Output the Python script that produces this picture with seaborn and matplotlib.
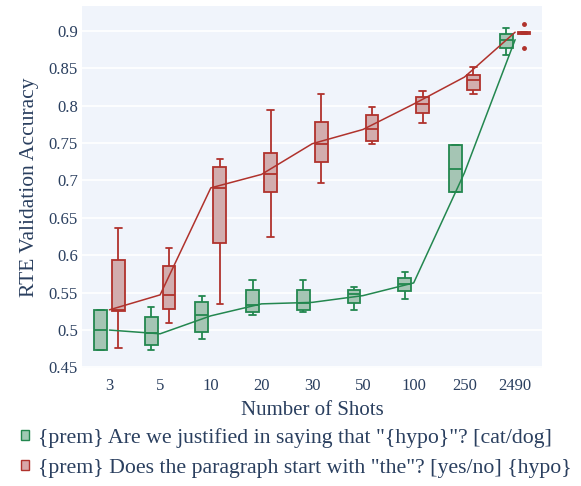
import numpy as np
import pandas as pd
import matplotlib
matplotlib.use("Agg")
import matplotlib.pyplot as plt
from matplotlib.patches import Patch
from matplotlib.ticker import FixedLocator, FuncFormatter
import seaborn as sns

SHOTS = ["3", "5", "10", "20", "30", "50", "100", "250", "2490"]
TEMPLATES = ['{prem} Are we justified in saying that "{hypo}"? [cat/dog]',
             '{prem} Does the paragraph start with "the"? [yes/no] {hypo}']

# five-number summaries per shot (template 1: cat/dog)
G_LOW = [0.473, 0.473, 0.488, 0.520, 0.524, 0.527, 0.542, 0.684, 0.867]
G_Q1 = [0.473, 0.480, 0.498, 0.524, 0.527, 0.536, 0.552, 0.684, 0.877]
G_MED = [0.500, 0.496, 0.520, 0.534, 0.536, 0.548, 0.562, 0.715, 0.888]
G_Q3 = [0.527, 0.517, 0.538, 0.554, 0.554, 0.554, 0.570, 0.747, 0.896]
G_HIGH = [0.527, 0.531, 0.545, 0.567, 0.567, 0.557, 0.578, 0.747, 0.903]
G_LINE = [0.500, 0.495, 0.519, 0.535, 0.537, 0.546, 0.563, 0.710, 0.888]

# template 2: yes/no
R_LOW = [0.476, 0.509, 0.535, 0.624, 0.697, 0.748, 0.776, 0.816, 0.877]
R_Q1 = [0.525, 0.528, 0.616, 0.684, 0.725, 0.753, 0.790, 0.821, 0.8956]
R_MED = [0.527, 0.547, 0.690, 0.708, 0.748, 0.768, 0.802, 0.834, 0.897]
R_Q3 = [0.594, 0.585, 0.718, 0.736, 0.778, 0.787, 0.812, 0.841, 0.8987]
R_HIGH = [0.636, 0.610, 0.729, 0.794, 0.816, 0.798, 0.820, 0.852, 0.909]
R_LINE = [0.527, 0.547, 0.690, 0.708, 0.749, 0.768, 0.802, 0.838, 0.898]

YTICKS = [0.45, 0.5, 0.55, 0.6, 0.65, 0.7, 0.75, 0.8, 0.85, 0.9]

G_EDGE = "#23874f"
G_FILL = "#a0cab4"
R_EDGE = "#b0322c"
R_FILL = "#d8a7a8"
BG = "#f0f4fb"
TXT = "#2a3f5f"

rows = []
for tpl, stats in [(TEMPLATES[0], (G_LOW, G_Q1, G_MED, G_Q3, G_HIGH)),
                   (TEMPLATES[1], (R_LOW, R_Q1, R_MED, R_Q3, R_HIGH))]:
    for i, s in enumerate(SHOTS):
        for arr in stats:
            rows.append({"shots": s, "acc": arr[i], "template": tpl})
df = pd.DataFrame(rows)

sns.set_theme(style="white")
plt.rcParams["font.family"] = ["Liberation Serif", "DejaVu Serif"]
plt.rcParams["text.color"] = TXT
plt.rcParams["axes.labelcolor"] = TXT
plt.rcParams["xtick.color"] = TXT
plt.rcParams["ytick.color"] = TXT

fig = plt.figure(figsize=(5.81, 4.86), dpi=100)
ax = fig.add_axes([82 / 581, 1 - 368 / 486, 460 / 581, 362 / 486])
ax.set_facecolor(BG)

for tpl, edge, fill in [(TEMPLATES[0], G_EDGE, G_FILL), (TEMPLATES[1], R_EDGE, R_FILL)]:
    sub = df[df["template"] == tpl]
    sns.boxplot(data=sub, x="shots", y="acc", hue="template", hue_order=TEMPLATES,
                order=SHOTS, dodge=True, width=0.708, gap=0.29,
                palette={TEMPLATES[0]: fill, TEMPLATES[1]: fill},
                linecolor=edge, linewidth=1.3, legend=False, ax=ax,
                flierprops=dict(marker="o", markersize=2.5,
                                markerfacecolor=edge, markeredgecolor=edge),
                zorder=3)

xpos = np.arange(len(SHOTS))
sns.lineplot(x=xpos, y=G_LINE, color=G_EDGE, linewidth=1.1, ax=ax, zorder=4)
sns.lineplot(x=xpos, y=R_LINE, color=R_EDGE, linewidth=1.1, ax=ax, zorder=4)

ax.set_xlim(-0.54, 8.53)
ax.set_ylim(0.4493, 0.933)
ax.yaxis.set_major_locator(FixedLocator(YTICKS))
ax.yaxis.set_major_formatter(FuncFormatter(lambda v, p: f"{v:g}"))
ax.set_xticks(xpos)
ax.set_xticklabels(SHOTS)
ax.grid(axis="y", color="white", linewidth=1.2)
ax.grid(axis="x", visible=False)
ax.set_axisbelow(True)
for sp in ax.spines.values():
    sp.set_visible(False)
ax.tick_params(axis="both", length=0, labelsize=12)
ax.tick_params(axis="x", pad=7)
ax.tick_params(axis="y", pad=3)
ax.set_xlabel("Number of Shots", fontsize=15, labelpad=5)
ax.set_ylabel("RTE Validation Accuracy", fontsize=15.5, labelpad=7)

handles = [Patch(facecolor=G_FILL, edgecolor=G_EDGE, linewidth=1.0, label=TEMPLATES[0]),
           Patch(facecolor=R_FILL, edgecolor=R_EDGE, linewidth=1.0, label=TEMPLATES[1])]
fig.legend(handles=handles, loc="upper left", bbox_to_anchor=(21 / 581, 1 - 428 / 486),
           frameon=False, fontsize=15.7, handlelength=0.36, handleheight=0.36,
           handletextpad=0.42, labelspacing=0.5, borderaxespad=0, borderpad=0)

fig.savefig("out.png", dpi=100)
